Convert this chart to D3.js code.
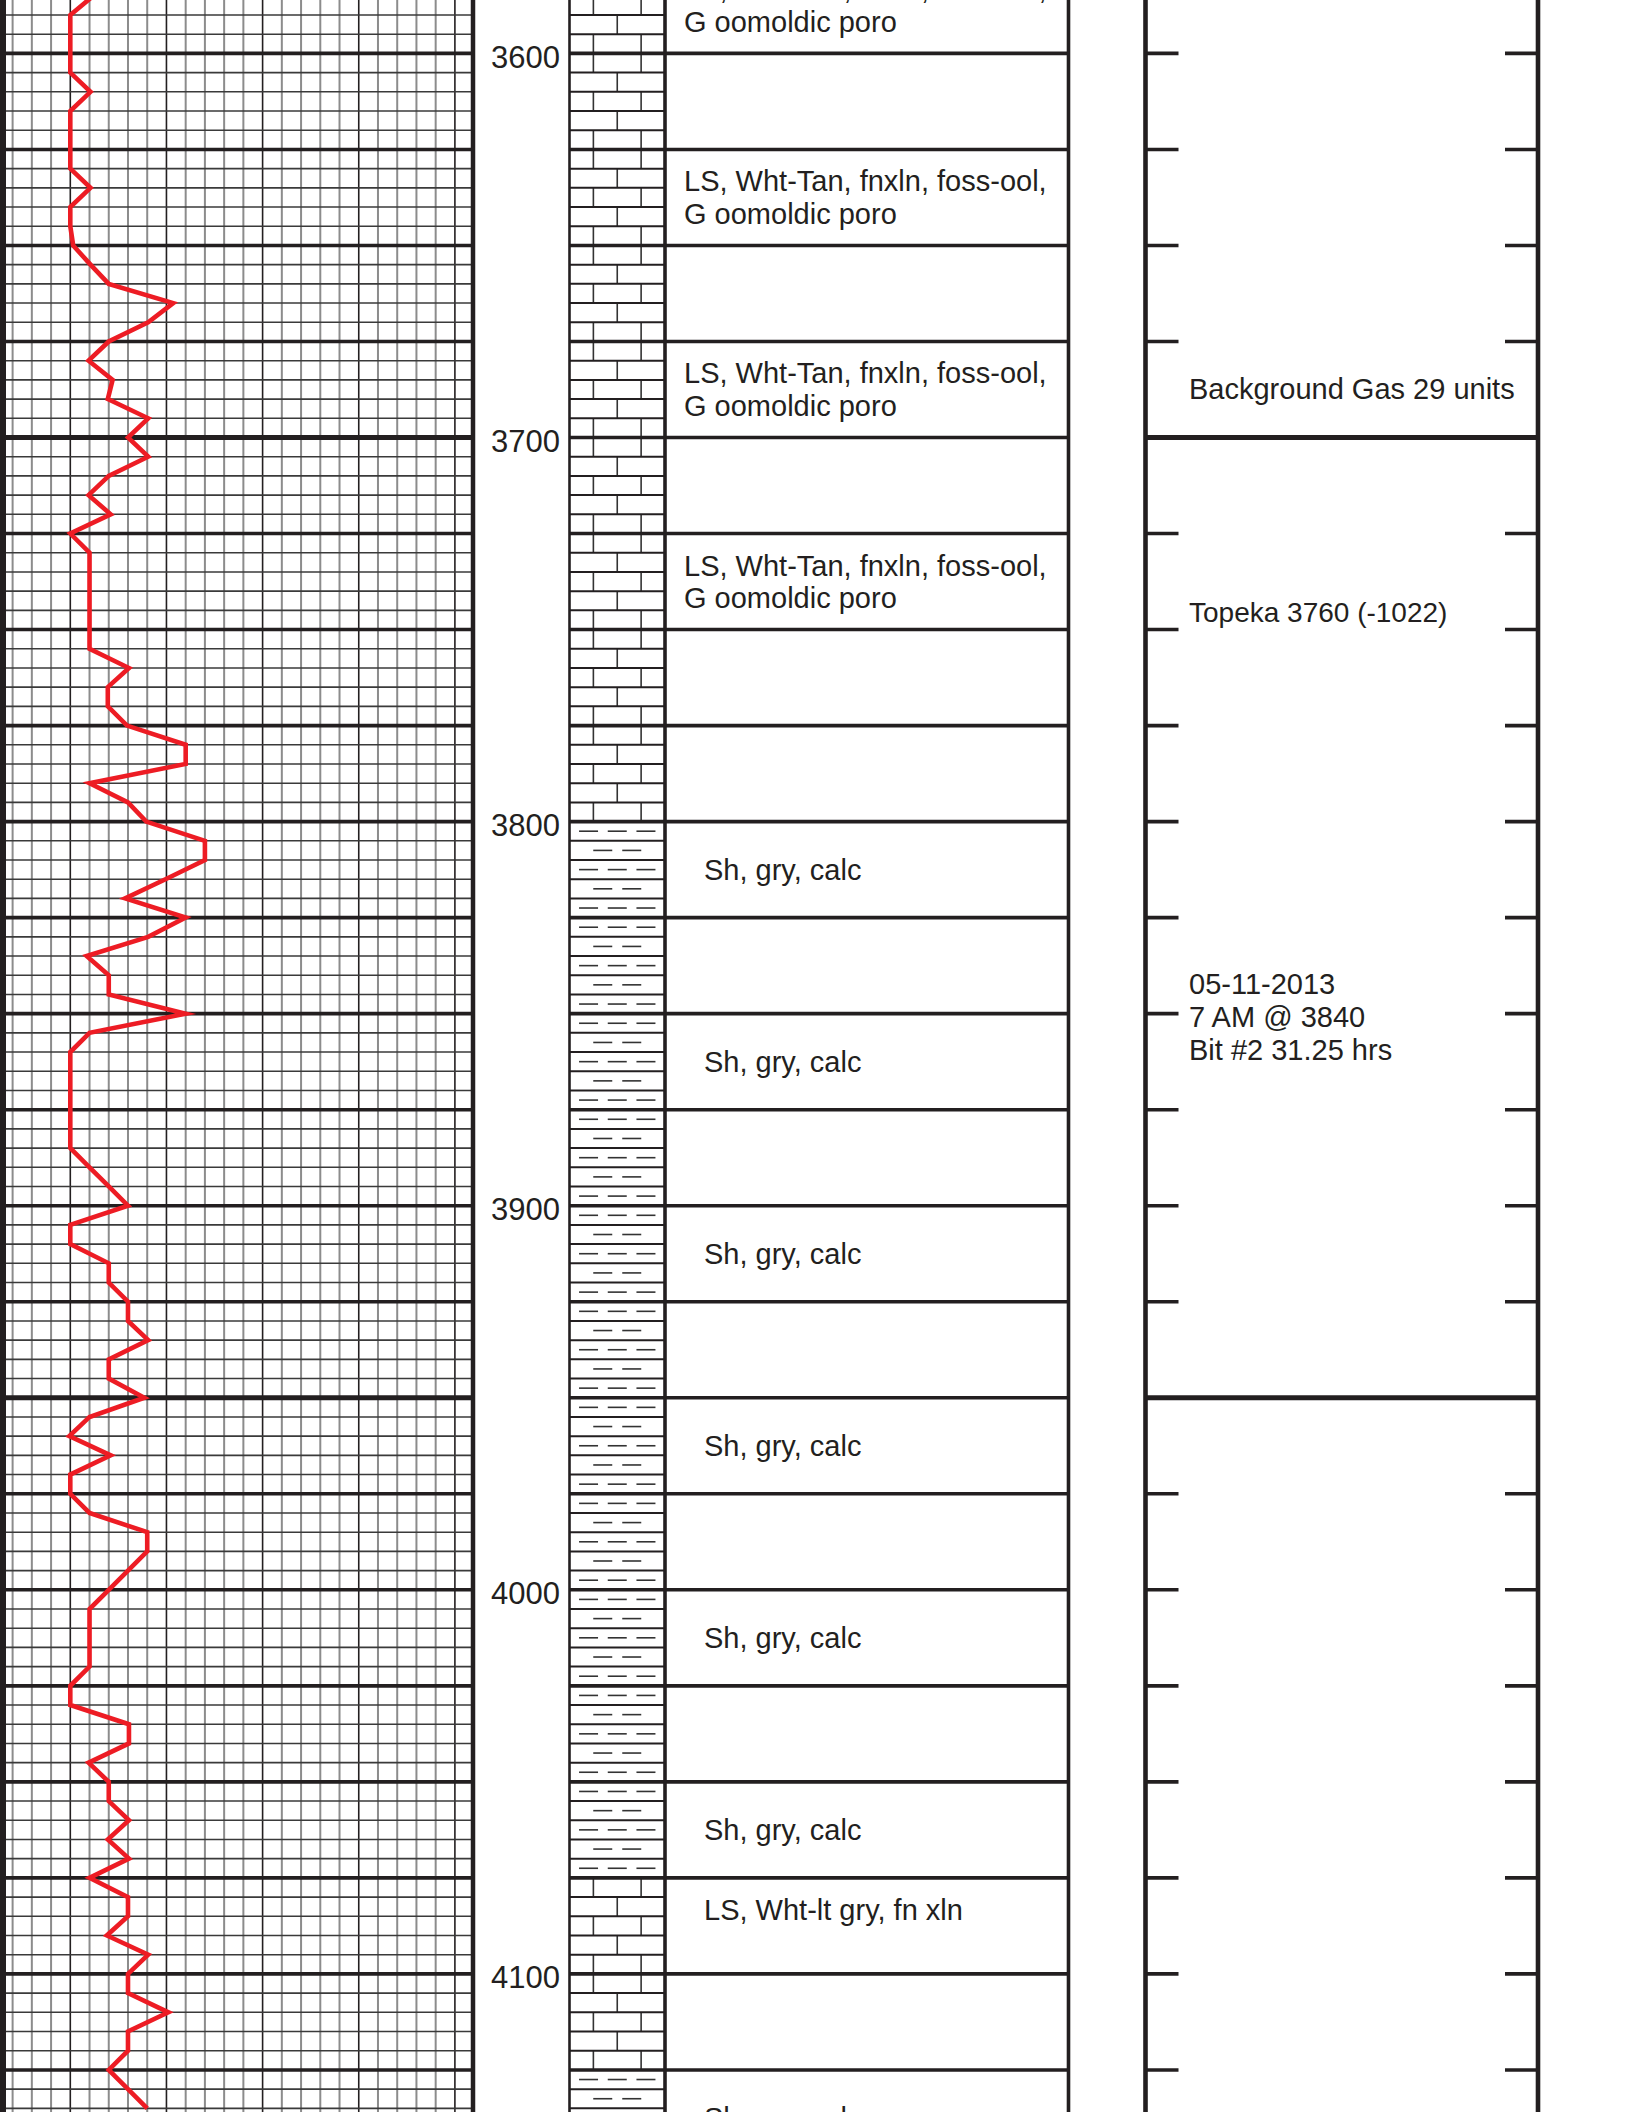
<!DOCTYPE html>
<html><head><meta charset="utf-8">
<script src="https://cdn.jsdelivr.net/npm/d3@7/dist/d3.min.js"></script>
<style>html,body{margin:0;padding:0;background:#fff}svg{display:block}</style>
</head><body>
<svg id="c" width="1632" height="2112"></svg>
<script>
// ---------- data ----------
const curveDepths = [3585,3590,3595,3600,3605,3610,3615,3620,3625,3630,3635,3640,3645,3650,3655,3660,3665,3670,3675,3680,
  3685,3690,3695,3700,3705,3710,3715,3720,3725,3730,3735,3740,3745,3750,3755,3760,3765,3770,3775,3780,
  3785,3790,3795,3800,3805,3810,3815,3820,3825,3830,3835,3840,3845,3850,3855,3860,3865,3870,3875,3880,
  3885,3890,3895,3900,3905,3910,3915,3920,3925,3930,3935,3940,3945,3950,3955,3960,3965,3970,3975,3980,
  3985,3990,3995,4000,4005,4010,4015,4020,4025,4030,4035,4040,4045,4050,4055,4060,4065,4070,4075,4080,
  4085,4090,4095,4100,4105,4110,4115,4120,4125,4130,4135];
const curveValues = [1.2,0,0,0,0,1.05,0,0,0,0,1.05,0,0,0.15,1.05,2,5.35,4.05,2,0.95,
  2.2,1.95,4.05,3,4.05,2,0.95,2.1,0,1,1,1,1,1,1,3.05,1.95,1.95,2.95,6,
  6,1,3,3.95,7,7,4.95,2.85,6,4.05,0.85,2,2,6,1,0,0,0,0,0,
  0,1,2,3,0,0,2,2,3,3,4.05,2,2,3.85,1,-0.05,2.1,0,0,1,
  4,4,3,2,1,1,1,1,0,0,3.05,3.05,0.95,2,2,3.05,1.95,3.05,1,3,
  3,1.9,4.05,3,3,5.1,3,3,2,3,4];
const depthTicks = [3600,3700,3800,3900,4000,4100];
const lithTops  = [3575,3800,4075,4125];
const lithBases = [3800,4075,4125,4150];
const lithTypes = ["LS","Sh","LS","Sh"];
const descTops = [3575,3625,3675,3725,3800,3850,3900,3950,4000,4050,4075,4125];
const descTexts = [
  "LS, Wht-Tan, fnxln, foss-ool,|G oomoldic poro",
  "LS, Wht-Tan, fnxln, foss-ool,|G oomoldic poro",
  "LS, Wht-Tan, fnxln, foss-ool,|G oomoldic poro",
  "LS, Wht-Tan, fnxln, foss-ool,|G oomoldic poro",
  "Sh, gry, calc","Sh, gry, calc","Sh, gry, calc","Sh, gry, calc",
  "Sh, gry, calc","Sh, gry, calc","LS, Wht-lt gry, fn xln","Sh, gry, calc"];
const noteDepths = [3690,3748,3845];
const noteTexts = ["Background Gas 29 units","Topeka 3760 (-1022)","05-11-2013|7 AM @ 3840|Bit #2 31.25 hrs"];
const boxBreaks = [3700,3950];

// ---------- layout ----------
const W = 1632, H = 2112;
const ink = "#231f20";
const font = "'Liberation Sans', Arial, Helvetica, sans-serif";
const y = d3.scaleLinear().domain([3600,4100]).range([53.4,1973.9]);
const x = d3.scaleLinear().domain([0,20]).range([70.3,454.9]);
const gridL = 3, gridR = 473;
const lithL = 569.5, lithR = 665;
const descR = 1068.5;
const panL = 1145.5, panR = 1538;
const dTop = y.invert(0), dBot = y.invert(H);

const svg = d3.select("#c");
svg.append("rect").attr("width",W).attr("height",H).attr("fill","#fff");

const fine = d3.range(Math.ceil(dTop/5)*5, dBot, 5);
const major = fine.filter(d => d % 25 === 0);

// ---------- grid track ----------
const g = svg.append("g");
const cols = d3.range(-3, 21);
g.selectAll(".vc").data(cols).join("line")
  .attr("x1", c => x(c)).attr("x2", c => x(c)).attr("y1",0).attr("y2",H)
  .attr("stroke", c => c % 5 === 0 ? ink : "#8c8c8c")
  .attr("stroke-width", c => c % 5 === 0 ? 1.6 : 2);
g.selectAll(".hf").data(fine.filter(d => d % 25 !== 0)).join("line")
  .attr("x1",gridL).attr("x2",gridR).attr("y1",d=>y(d)).attr("y2",d=>y(d))
  .attr("stroke","#3a3a3a").attr("stroke-width",1.6);
g.selectAll(".hm").data(major).join("line")
  .attr("x1",gridL).attr("x2",gridR).attr("y1",d=>y(d)).attr("y2",d=>y(d))
  .attr("stroke",ink).attr("stroke-width", d => boxBreaks.includes(d) ? 5 : 3.6);

// curve
const pts = curveDepths.map((d,i) => ({d, v: curveValues[i]}));
g.append("path").datum(pts)
  .attr("d", d3.line().x(p => x(p.v)).y(p => y(p.d)))
  .attr("fill","none").attr("stroke","#ed1c24").attr("stroke-width",4.6)
  .attr("stroke-linejoin","miter").attr("stroke-miterlimit",6);

g.append("line").attr("x1",gridL).attr("x2",gridL).attr("y1",0).attr("y2",H)
  .attr("stroke",ink).attr("stroke-width",6);
g.append("line").attr("x1",gridR).attr("x2",gridR).attr("y1",0).attr("y2",H)
  .attr("stroke",ink).attr("stroke-width",4.5);

// ---------- depth axis ----------
const ax = svg.append("g").attr("transform","translate(560,0)")
  .call(d3.axisLeft(y).tickValues(depthTicks).tickSize(0).tickPadding(0).tickFormat(d3.format("d")));
ax.select(".domain").remove();
ax.selectAll("text").attr("font-family",font).attr("font-size",31).attr("fill",ink)
  .attr("dy","0.35em").attr("transform","translate(0,3)");

// ---------- lithology ----------
const lg = svg.append("g");
const rows = fine.concat([fine[0]-5]).sort((a,b)=>a-b);
rows.forEach(top => {
  const li = lithTops.findIndex((t,i) => top >= t && top < lithBases[i]);
  if (li < 0) return;
  const type = lithTypes[li];
  const idx = ((top - 3575) / 5) % 5;
  const y0 = y(top), y1 = y(top+5), ym = (y0+y1)/2;
  const w = lithR - lithL;
  if (type === "LS") {
    const joints = idx % 2 === 0 ? [0.25, 0.75] : [0.5];
    joints.forEach(f => lg.append("line")
      .attr("x1", lithL + f*w).attr("x2", lithL + f*w).attr("y1", y0).attr("y2", y1)
      .attr("stroke","#333").attr("stroke-width",1.6));
  } else {
    const dashes = idx % 2 === 0 ? [-28.7, 0, 28.7] : [-14.5, 14.5];
    const cx = lithL + w/2;
    dashes.forEach(o => lg.append("line")
      .attr("x1", cx + o - 9.5).attr("x2", cx + o + 9.5).attr("y1", ym).attr("y2", ym)
      .attr("stroke","#333").attr("stroke-width",1.6));
  }
});
lg.selectAll(".lf").data(fine.filter(d => d % 25 !== 0)).join("line")
  .attr("x1",lithL).attr("x2",lithR).attr("y1",d=>y(d)).attr("y2",d=>y(d))
  .attr("stroke",ink).attr("stroke-width",2);

// description rows
lg.selectAll(".dm").data(major).join("line")
  .attr("x1",lithL).attr("x2",descR).attr("y1",d=>y(d)).attr("y2",d=>y(d))
  .attr("stroke",ink).attr("stroke-width",3.6);
lg.append("line").attr("x1",lithL).attr("x2",lithL).attr("y1",0).attr("y2",H)
  .attr("stroke",ink).attr("stroke-width",2.6);
lg.append("line").attr("x1",lithR).attr("x2",lithR).attr("y1",0).attr("y2",H)
  .attr("stroke",ink).attr("stroke-width",3.6);
lg.append("line").attr("x1",descR).attr("x2",descR).attr("y1",0).attr("y2",H)
  .attr("stroke",ink).attr("stroke-width",3.6);

descTops.forEach((t,i) => {
  const lines = descTexts[i].split("|");
  const isLS = descTexts[i].startsWith("LS");
  const top = y(t), mid = y(t+12.5);
  const tx = svg.append("text").attr("font-family",font).attr("font-size",29).attr("fill",ink);
  lines.forEach((s,k) => {
    const by = isLS ? top + 42 + k*32.5 : mid + 10.4;
    tx.append("tspan").attr("x", isLS && lines.length > 1 ? 684 : 704).attr("y", by).text(s);
  });
});

// ---------- right panel ----------
const pg = svg.append("g");
major.filter(d => !boxBreaks.includes(d)).forEach(d => {
  pg.append("line").attr("x1",panL).attr("x2",panL+33).attr("y1",y(d)).attr("y2",y(d))
    .attr("stroke",ink).attr("stroke-width",3.6);
  pg.append("line").attr("x1",panR-33).attr("x2",panR).attr("y1",y(d)).attr("y2",y(d))
    .attr("stroke",ink).attr("stroke-width",3.6);
});
pg.selectAll(".bb").data(boxBreaks).join("line")
  .attr("x1",panL).attr("x2",panR).attr("y1",d=>y(d)).attr("y2",d=>y(d))
  .attr("stroke",ink).attr("stroke-width",5);
pg.append("line").attr("x1",panL).attr("x2",panL).attr("y1",0).attr("y2",H)
  .attr("stroke",ink).attr("stroke-width",4.6);
pg.append("line").attr("x1",panR).attr("x2",panR).attr("y1",0).attr("y2",H)
  .attr("stroke",ink).attr("stroke-width",4.6);

noteDepths.forEach((d,i) => {
  const lines = noteTexts[i].split("|");
  const tx = pg.append("text").attr("font-family",font)
    .attr("font-size", i === 1 ? 28 : 29).attr("fill",ink);
  lines.forEach((s,k) => tx.append("tspan").attr("x", 1189).attr("y", y(d) + k*33).text(s));
});
</script>
</body></html>
